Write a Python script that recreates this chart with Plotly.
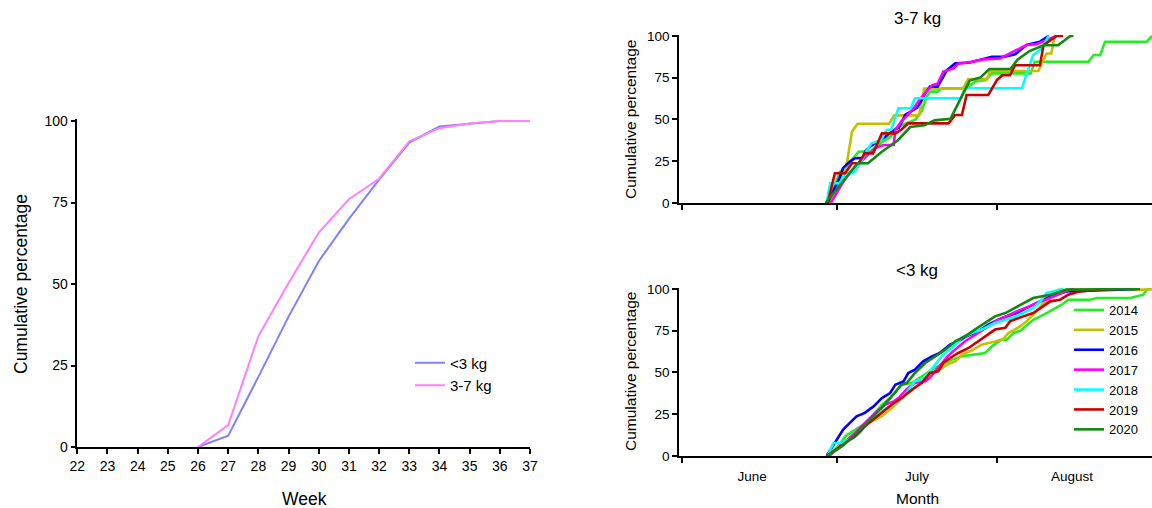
import plotly.graph_objects as go

# ---------------- data ----------------
# Left panel: cumulative percentage by week
weeks = [26, 27, 28, 29, 30, 31, 32, 33, 34, 35, 36, 37]
week_ticks = list(range(22, 38))
pct_lt3 = [0, 3.5, 21.5, 40, 57, 70, 82, 93.4, 98.3, 99.1, 100, 100]
pct_3to7 = [0, 6.7, 34, 50.3, 65.8, 76, 82.3, 93.8, 97.8, 99.2, 100, 100]

years = ["2014", "2015", "2016", "2017", "2018", "2019", "2020"]
year_colors = ["#22ee22", "#c4c000", "#0000ff", "#ff00ff", "#00ffff", "#cc0000", "#118811"]

month_labels = ["June", "July", "August"]
month_label_days = [13.6, 45.5, 75.5]   # days since 1 June
month_start_days = [0, 30, 61]

# Right top panel (3-7 kg): (days since 1 June, cumulative %)
top_2014 = [(28.3, 0), (29.5, 10), (30.6, 18.8), (31.6, 21), (32.6, 25), (34.2, 30.7), (36.5, 31),
            (38.5, 36), (40.5, 40), (41.5, 45), (42.9, 47), (45.1, 49.7), (46.4, 55), (47.3, 63),
            (48.0, 66.7), (49.5, 66.7), (50.3, 68.7), (54.2, 68.7), (55.5, 70), (57.0, 73), (58.7, 73.5),
            (60.0, 77.6), (67.5, 77.6), (68.3, 84.6), (78.7, 84.6), (79.7, 88.6), (81.0, 88.6),
            (81.9, 96.6), (90.0, 96.6), (91.0, 100)]
top_2015 = [(28.5, 0), (30.0, 10), (31.2, 17.8), (32.0, 25), (32.9, 42.6), (34.0, 47.5), (40.1, 47.5),
            (41.1, 52.5), (45.9, 52.5), (46.5, 63), (46.9, 68.5), (54.4, 68.5), (55.4, 74.2), (59.1, 74.2),
            (59.6, 79), (69.0, 79), (69.8, 84), (70.6, 89.5), (71.5, 89.5), (72.2, 100)]
top_2016 = [(28.2, 0), (29.5, 8), (30.5, 15), (31.2, 21), (32.5, 24.8), (33.5, 26.8), (35.0, 27),
            (35.5, 31), (36.4, 33.7), (37.5, 36), (39.5, 40), (41.0, 43.7), (42.0, 45), (43.2, 52.7),
            (44.5, 55), (45.5, 57), (46.5, 62), (47.1, 65.7), (48.0, 69.7), (49.5, 69.7), (51.3, 79.6),
            (52.9, 83.6), (55.5, 84), (57.5, 85.5), (60.0, 87.6), (62.5, 87.6), (64.5, 89), (66.7, 94.6),
            (69.3, 96.6), (71.0, 100)]
top_2017 = [(28.8, 0), (30.0, 6), (31.5, 14), (33.0, 20), (34.5, 24), (36.0, 29), (37.5, 33), (39.0, 34.7),
            (41.0, 34.7), (41.3, 43.7), (42.5, 49), (43.5, 52), (45.1, 57.7), (46.0, 62), (47.1, 65.7),
            (48.4, 70.5), (49.5, 71.5), (50.6, 78.7), (52.6, 80.6), (53.5, 83.6), (56.1, 84.5), (58.5, 86),
            (61.6, 86.6), (63.5, 89.6), (66.7, 94.6), (68.5, 95), (70.5, 97.6), (72.5, 100)]
top_2018 = [(28.0, 0), (28.7, 11.8), (30.6, 11.8), (31.6, 17.8), (33.2, 17.8), (34.5, 23.8), (35.5, 30),
            (36.7, 35.7), (38.5, 37.5), (39.6, 43.7), (40.5, 44), (41.9, 56.7), (44.3, 56.7), (45.1, 62.7),
            (54.0, 62.7), (54.8, 68.7), (65.8, 68.7), (67.0, 80), (68.0, 88.6), (69.5, 92), (71.0, 100)]
top_2019 = [(28.2, 0), (29.6, 17.8), (31.6, 17.8), (32.9, 23.8), (34.2, 23.8), (35.4, 29.7), (37.0, 29.7),
            (38.7, 41.7), (41.3, 41.7), (42.5, 44), (43.8, 47.7), (51.6, 47.7), (52.9, 52.7), (54.2, 52.7),
            (55.1, 64.7), (59.3, 64.7), (61.0, 73.7), (62.0, 76.5), (63.5, 76.5), (64.5, 82.5), (69.3, 82.5),
            (70.0, 94.5), (72.5, 100), (73.8, 100)]
top_2020 = [(27.8, 0), (31.2, 12.9), (34.0, 23.8), (36.0, 23.8), (38.7, 30.7), (41.8, 37.6), (44.2, 45.5),
            (46.9, 46.5), (48.9, 49.5), (52.0, 50.5), (55.7, 73.3), (57.8, 75.2), (59.5, 80.2), (63.6, 80.2),
            (65.0, 86), (67.3, 91), (70.0, 94.5), (72.8, 94.5), (75.2, 100), (75.8, 100)]

# Right bottom panel (<3 kg)
bot_2014 = [(28.0, 0), (30.3, 5.8), (31.6, 11.8), (33.2, 14.8), (35.1, 18.8), (37.1, 24.8), (38.7, 30.7),
            (40.3, 34.7), (41.6, 39.7), (42.5, 42.7), (44.5, 43.7), (46.4, 47.7), (48.4, 51.7), (50.3, 54.7),
            (52.2, 57.7), (54.2, 59.7), (56.7, 60.7), (58.7, 61.7), (60.0, 65.7), (61.9, 69.7), (62.9, 69.7),
            (64.2, 73.7), (65.5, 75), (68.0, 81.6), (70.6, 85.6), (73.5, 90.6), (74.8, 93.6), (79.0, 93.6),
            (80.3, 94.6), (86.8, 94.6), (89.3, 96.6), (90.0, 99.6), (91.0, 100)]
bot_2015 = [(28.3, 0), (31.6, 7.8), (33.5, 13.8), (36.1, 19.8), (38.7, 23.8), (41.0, 29.7), (43.5, 37),
            (45.5, 42), (47.5, 47), (49.5, 51), (51.5, 55), (52.9, 56.7), (54.2, 60.7), (56.0, 63), (58.0, 66.7),
            (60.6, 68.5), (62.2, 70), (63.2, 73.7), (65.5, 77.6), (66.7, 80.6), (68.0, 84.6), (70.0, 91.6),
            (71.9, 95.6), (72.9, 99.5), (88.7, 99.5), (91.0, 100)]
bot_2016 = [(28.0, 0), (29.0, 5), (30.3, 11.8), (31.2, 15.8), (32.5, 19.8), (33.8, 23.8), (35.4, 25.8),
            (37.1, 29.7), (38.7, 34.7), (40.3, 37.7), (41.3, 42.7), (42.9, 44.7), (43.8, 49.7), (45.1, 51.7),
            (46.7, 56.7), (48.4, 59.7), (49.9, 61.7), (51.9, 66.7), (53.5, 68.7), (55.1, 71.7), (57.5, 75),
            (59.3, 78.6), (62.0, 82.6), (64.8, 85.6), (68.0, 90.6), (71.3, 95.6), (74.5, 98.6), (86.1, 99.6),
            (88.0, 100)]
bot_2017 = [(28.5, 0), (30.0, 4), (31.5, 8), (33.5, 13.8), (35.5, 20), (37.5, 26), (39.5, 31), (41.0, 32.7),
            (42.0, 35), (43.5, 40), (45.1, 43.7), (47.1, 44.7), (48.0, 47), (49.0, 50.7), (50.3, 55.7),
            (51.5, 60), (52.9, 63.7), (54.8, 68.7), (56.5, 72), (59.3, 77.6), (61.3, 81.6), (64.8, 86.6),
            (68.0, 90.6), (71.3, 94.6), (73.5, 97.6), (75.5, 100), (76.0, 100)]
bot_2018 = [(28.2, 0), (29.3, 7.8), (30.9, 7.8), (32.0, 9.5), (33.2, 10.8), (34.5, 13.8), (35.4, 17.8),
            (37.2, 23), (39.6, 28.7), (41.3, 31.7), (42.5, 34.7), (43.5, 38), (45.1, 44.7), (46.4, 45.7),
            (48.0, 50.7), (49.0, 54.7), (50.3, 59.7), (52.2, 64.7), (54.2, 70.7), (56.0, 73.5), (58.0, 75.7),
            (60.6, 79.6), (64.8, 83.6), (68.0, 88.6), (69.5, 93), (70.6, 97.6), (73.8, 100)]
bot_2019 = [(28.0, 0), (30.6, 5.8), (33.5, 11.8), (35.4, 17.8), (37.4, 22.8), (40.6, 30.7), (42.5, 34.7),
            (44.5, 39.7), (46.4, 43.7), (48.0, 49.7), (49.6, 50.7), (50.6, 55.7), (51.9, 58.7), (53.5, 61.7),
            (55.5, 64.7), (57.4, 68.7), (59.3, 72.7), (60.6, 75.7), (62.6, 76.7), (63.5, 80.6), (66.1, 83.6),
            (68.0, 85.6), (71.3, 92.6), (73.2, 93.6), (74.8, 96.6), (77.1, 98.6), (81.0, 99.6), (83.5, 100),
            (84.8, 100)]
bot_2020 = [(28.0, 0), (31.0, 5.8), (33.5, 12.8), (35.4, 18.8), (37.4, 24.8), (38.9, 29.7), (40.9, 36.7),
            (42.5, 42.7), (43.5, 43.7), (45.1, 49.7), (47.1, 55.7), (49.0, 59.7), (51.0, 63.7), (52.9, 68.7),
            (54.8, 71.7), (56.7, 75.7), (58.7, 79.6), (60.6, 83.6), (62.6, 85.6), (64.5, 88.6), (68.0, 94.6),
            (71.3, 96.6), (74.5, 99.6), (88.7, 100)]

top_series = [top_2014, top_2015, top_2016, top_2017, top_2018, top_2019, top_2020]
bot_series = [bot_2014, bot_2015, bot_2016, bot_2017, bot_2018, bot_2019, bot_2020]

# ---------------- layout helpers ----------------
W, H = 1152, 508
FONT = "Liberation Sans, Arial, sans-serif"


def fx(p):
    return p / W


def fy(p):
    return 1 - p / H


fig = go.Figure()

# Left panel
fig.add_trace(go.Scatter(x=weeks, y=pct_lt3, mode="lines", name="<3 kg",
                         line=dict(color="#8080ff", width=2), xaxis="x", yaxis="y",
                         legend="legend2"))
fig.add_trace(go.Scatter(x=weeks, y=pct_3to7, mode="lines", name="3-7 kg",
                         line=dict(color="#ff80ff", width=2), xaxis="x", yaxis="y",
                         legend="legend2"))

# Right panels
for yr, col, ser in zip(years, year_colors, top_series):
    fig.add_trace(go.Scatter(x=[p[0] for p in ser], y=[p[1] for p in ser], mode="lines",
                             line=dict(color=col, width=2.6), xaxis="x2", yaxis="y2",
                             showlegend=False, name=yr))
for yr, col, ser in zip(years, year_colors, bot_series):
    fig.add_trace(go.Scatter(x=[p[0] for p in ser], y=[p[1] for p in ser], mode="lines",
                             line=dict(color=col, width=2.6), xaxis="x3", yaxis="y3",
                             showlegend=True, name=yr, legend="legend"))

axis_common = dict(showline=True, linecolor="black", linewidth=1.5, showgrid=False,
                   zeroline=False, ticks="outside", tickcolor="black", tickwidth=1.5,
                   automargin=False,
                   tickfont=dict(family=FONT, size=14, color="black"))

yrange = [0, 100.6]

fig.update_layout(
    template="none",
    width=W, height=H, autosize=False,
    margin=dict(l=0, r=0, t=0, b=0, pad=0, autoexpand=False),
    paper_bgcolor="white", plot_bgcolor="white",
    font=dict(family=FONT, color="black"),
    xaxis=dict(axis_common, domain=[fx(77.3), fx(530)], range=[22, 37],
               tickmode="array", tickvals=week_ticks, ticklen=5, anchor="y"),
    yaxis=dict(axis_common, domain=[fy(447), fy(447 - 3.26 * 100.6)], range=yrange,
               tickmode="array", tickvals=[0, 25, 50, 75, 100], ticklen=5, anchor="x"),
    xaxis2=dict(axis_common, domain=[fx(679), 1.0], range=[-0.58, 91.0],
                tickmode="array", tickvals=[], ticks="", showticklabels=False, anchor="y2",
                minor=dict(tickmode="array", tickvals=month_start_days, ticks="outside",
                           ticklen=5, tickwidth=1.5, tickcolor="black")),
    yaxis2=dict(axis_common, domain=[fy(203), fy(203 - 1.67 * 100.6)], range=yrange,
                tickmode="array", tickvals=[0, 25, 50, 75, 100], ticklen=5, anchor="x2",
                tickfont=dict(family=FONT, size=13.5, color="black")),
    xaxis3=dict(axis_common, domain=[fx(679), 1.0], range=[-0.58, 91.0],
                tickmode="array", tickvals=month_label_days, ticktext=month_labels, ticks="",
                anchor="y3", ticklabelstandoff=7,
                tickfont=dict(family=FONT, size=13.5, color="black"),
                minor=dict(tickmode="array", tickvals=month_start_days, ticks="outside",
                           ticklen=5, tickwidth=1.5, tickcolor="black")),
    yaxis3=dict(axis_common, domain=[fy(456), fy(456 - 1.67 * 100.6)], range=yrange,
                tickmode="array", tickvals=[0, 25, 50, 75, 100], ticklen=5, anchor="x3",
                tickfont=dict(family=FONT, size=13.5, color="black")),
    legend=dict(x=fx(1069), y=fy(370), xanchor="left", yanchor="middle",
                bgcolor="rgba(0,0,0,0)", borderwidth=0, tracegroupgap=0,
                font=dict(family=FONT, size=13, color="black")),
    legend2=dict(x=fx(410), y=fy(374), xanchor="left", yanchor="middle",
                 bgcolor="rgba(0,0,0,0)", borderwidth=0,
                 font=dict(family=FONT, size=15, color="black")),
)

annotations = [
    dict(text="Week", x=fx(304), y=fy(499), font=dict(size=17.5)),
    dict(text="Month", x=fx(917), y=fy(498), font=dict(size=15.5)),
    dict(text="Cumulative percentage", x=fx(21), y=fy(284), textangle=-90, font=dict(size=17.5)),
    dict(text="Cumulative percentage", x=fx(630), y=fy(120), textangle=-90, font=dict(size=15.5)),
    dict(text="Cumulative percentage", x=fx(630), y=fy(372), textangle=-90, font=dict(size=15.5)),
    dict(text="3-7 kg", x=fx(917), y=fy(18), font=dict(size=17)),
    dict(text="<3 kg", x=fx(917), y=fy(270), font=dict(size=17)),
]
for a in annotations:
    a.update(xref="paper", yref="paper", showarrow=False, xanchor="center", yanchor="middle")
    a["font"] = dict(family=FONT, color="black", **a["font"])
fig.update_layout(annotations=annotations)

fig.write_html("out.html", config={"displayModeBar": False},
               post_script="document.body.style.margin='0';")
